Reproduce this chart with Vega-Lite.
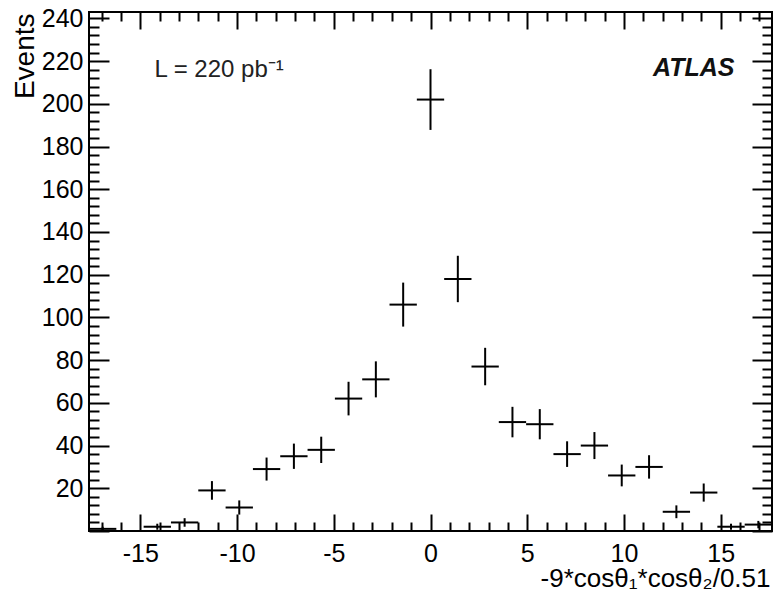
{
  "$schema": "https://vega.github.io/schema/vega-lite/v6.json",
  "width": 683,
  "height": 519,
  "autosize": {"type": "none"},
  "padding": {"left": 89, "top": 12, "right": 4, "bottom": 72},
  "background": "white",
  "config": {
    "font": "Liberation Sans",
    "view": {"stroke": "black", "strokeWidth": 2},
    "axis": {"grid": false, "domain": false, "labelOverlap": false, "labelFlush": false, "labelBound": false, "tickColor": "black", "tickWidth": 2, "labelColor": "black", "titleColor": "black", "labelFontSize": 25, "titleFontSize": 26, "titleFontWeight": "normal"}
  },
  "data": {
    "values": [
      {"x": -16.941, "lo": -17.647, "hi": -16.235, "n": 1, "nlo": 0.0, "nhi": 2.0},
      {"x": -14.118, "lo": -14.824, "hi": -13.412, "n": 2, "nlo": 0.59, "nhi": 3.41},
      {"x": -12.706, "lo": -13.412, "hi": -12.0, "n": 4, "nlo": 2.0, "nhi": 6.0},
      {"x": -11.294, "lo": -12.0, "hi": -10.588, "n": 19, "nlo": 14.64, "nhi": 23.36},
      {"x": -9.882, "lo": -10.588, "hi": -9.176, "n": 11, "nlo": 7.68, "nhi": 14.32},
      {"x": -8.471, "lo": -9.176, "hi": -7.765, "n": 29, "nlo": 23.61, "nhi": 34.39},
      {"x": -7.059, "lo": -7.765, "hi": -6.353, "n": 35, "nlo": 29.08, "nhi": 40.92},
      {"x": -5.647, "lo": -6.353, "hi": -4.941, "n": 38, "nlo": 31.84, "nhi": 44.16},
      {"x": -4.235, "lo": -4.941, "hi": -3.529, "n": 62, "nlo": 54.13, "nhi": 69.87},
      {"x": -2.824, "lo": -3.529, "hi": -2.118, "n": 71, "nlo": 62.57, "nhi": 79.43},
      {"x": -1.412, "lo": -2.118, "hi": -0.706, "n": 106, "nlo": 95.7, "nhi": 116.3},
      {"x": 0.0, "lo": -0.706, "hi": 0.706, "n": 202, "nlo": 187.79, "nhi": 216.21},
      {"x": 1.412, "lo": 0.706, "hi": 2.118, "n": 118, "nlo": 107.14, "nhi": 128.86},
      {"x": 2.824, "lo": 2.118, "hi": 3.529, "n": 77, "nlo": 68.23, "nhi": 85.77},
      {"x": 4.235, "lo": 3.529, "hi": 4.941, "n": 51, "nlo": 43.86, "nhi": 58.14},
      {"x": 5.647, "lo": 4.941, "hi": 6.353, "n": 50, "nlo": 42.93, "nhi": 57.07},
      {"x": 7.059, "lo": 6.353, "hi": 7.765, "n": 36, "nlo": 30.0, "nhi": 42.0},
      {"x": 8.471, "lo": 7.765, "hi": 9.176, "n": 40, "nlo": 33.68, "nhi": 46.32},
      {"x": 9.882, "lo": 9.176, "hi": 10.588, "n": 26, "nlo": 20.9, "nhi": 31.1},
      {"x": 11.294, "lo": 10.588, "hi": 12.0, "n": 30, "nlo": 24.52, "nhi": 35.48},
      {"x": 12.706, "lo": 12.0, "hi": 13.412, "n": 9, "nlo": 6.0, "nhi": 12.0},
      {"x": 14.118, "lo": 13.412, "hi": 14.824, "n": 18, "nlo": 13.76, "nhi": 22.24},
      {"x": 15.529, "lo": 14.824, "hi": 16.235, "n": 2, "nlo": 0.59, "nhi": 3.41},
      {"x": 16.941, "lo": 16.235, "hi": 17.647, "n": 3, "nlo": 1.27, "nhi": 4.73}
    ]
  },
  "layer": [
    {
      "mark": {"type": "rule", "color": "black", "strokeWidth": 2},
      "encoding": {
        "x": {
          "field": "lo", "type": "quantitative",
          "scale": {"domain": [-17.647, 17.647], "nice": false, "zero": false},
          "axis": {
            "orient": "bottom",
            "values": [-17, -16, -15, -14, -13, -12, -11, -10, -9, -8, -7, -6, -5, -4, -3, -2, -1, 0, 1, 2, 3, 4, 5, 6, 7, 8, 9, 10, 11, 12, 13, 14, 15, 16, 17],
            "tickSize": {"condition": {"test": "datum.value % 5 === 0", "value": -17}, "value": -9},
            "labelExpr": "datum.value % 5 === 0 ? replace(datum.label, '−', '-') : ''",
            "labelPadding": 27,
            "title": "-9*cosθ₁*cosθ₂/0.51",
            "titleAlign": "right",
            "titleBaseline": "alphabetic",
            "titleX": 681,
            "titleY": 55
          }
        },
        "x2": {"field": "hi"},
        "y": {
          "field": "n", "type": "quantitative",
          "scale": {"domain": [0, 243], "nice": false, "zero": false},
          "axis": {
            "orient": "left",
            "values": [0, 4, 8, 12, 16, 20, 24, 28, 32, 36, 40, 44, 48, 52, 56, 60, 64, 68, 72, 76, 80, 84, 88, 92, 96, 100, 104, 108, 112, 116, 120, 124, 128, 132, 136, 140, 144, 148, 152, 156, 160, 164, 168, 172, 176, 180, 184, 188, 192, 196, 200, 204, 208, 212, 216, 220, 224, 228, 232, 236, 240],
            "tickSize": {"condition": {"test": "datum.value % 20 === 0", "value": -20}, "value": -10},
            "labelExpr": "datum.value % 20 === 0 && datum.value > 0 ? datum.label : ''",
            "labelPadding": 26,
            "title": "Events",
            "titleFontSize": 28,
            "titleAngle": -90,
            "titleAlign": "right",
            "titleBaseline": "alphabetic",
            "titleX": -56,
            "titleY": 1
          }
        }
      }
    },
    {
      "mark": {"type": "rule", "color": "black", "strokeWidth": 2},
      "encoding": {
        "x": {
          "field": "x", "type": "quantitative",
          "scale": {"domain": [-17.647, 17.647], "nice": false, "zero": false},
          "axis": {
            "orient": "top",
            "values": [-17, -16, -15, -14, -13, -12, -11, -10, -9, -8, -7, -6, -5, -4, -3, -2, -1, 0, 1, 2, 3, 4, 5, 6, 7, 8, 9, 10, 11, 12, 13, 14, 15, 16, 17],
            "tickSize": {"condition": {"test": "datum.value % 5 === 0", "value": -17}, "value": -9},
            "labels": false,
            "title": null
          }
        },
        "y": {
          "field": "nlo", "type": "quantitative",
          "scale": {"domain": [0, 243], "nice": false, "zero": false},
          "axis": {
            "orient": "right",
            "values": [0, 4, 8, 12, 16, 20, 24, 28, 32, 36, 40, 44, 48, 52, 56, 60, 64, 68, 72, 76, 80, 84, 88, 92, 96, 100, 104, 108, 112, 116, 120, 124, 128, 132, 136, 140, 144, 148, 152, 156, 160, 164, 168, 172, 176, 180, 184, 188, 192, 196, 200, 204, 208, 212, 216, 220, 224, 228, 232, 236, 240],
            "tickSize": {"condition": {"test": "datum.value % 20 === 0", "value": -20}, "value": -10},
            "labels": false,
            "title": null
          }
        },
        "y2": {"field": "nhi"}
      }
    },
    {
      "data": {"values": [{"label": "L = 220 pb⁻¹"}]},
      "mark": {"type": "text", "align": "left", "baseline": "middle", "fontSize": 24, "fontWeight": "normal", "color": "#222"},
      "encoding": {
        "text": {"field": "label"},
        "x": {"datum": -14.26, "type": "quantitative", "axis": null},
        "y": {"datum": 216, "type": "quantitative", "axis": null}
      }
    },
    {
      "data": {"values": [{"label": "ATLAS"}]},
      "mark": {"type": "text", "align": "right", "baseline": "middle", "fontSize": 25, "fontWeight": "bold", "fontStyle": "italic", "color": "#111"},
      "encoding": {
        "text": {"field": "label"},
        "x": {"datum": 15.71, "type": "quantitative", "axis": null},
        "y": {"datum": 217, "type": "quantitative", "axis": null}
      }
    }
  ],
  "resolve": {"axis": {"x": "independent", "y": "independent"}}
}
